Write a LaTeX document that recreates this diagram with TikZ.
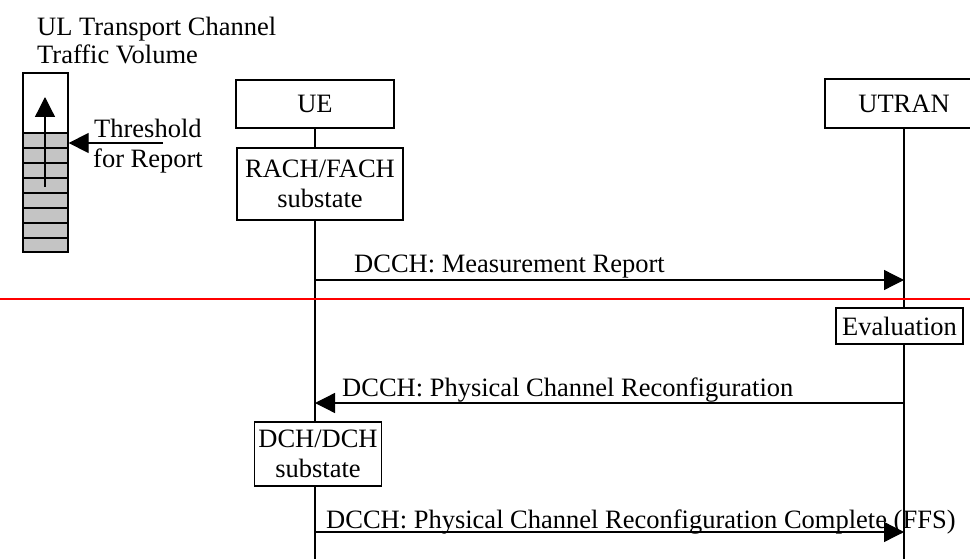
\documentclass[tikz,border=0pt]{standalone}
\usepackage{fontspec}
\setmainfont{Liberation Serif}
\usetikzlibrary{arrows.meta}
\begin{document}
\begin{tikzpicture}[x=1pt,y=-1pt,
  every node/.style={font=\fontsize{26.5}{30}\selectfont},
  lbl/.style={anchor=base west,inner sep=0},
  entity/.style={draw,line width=1.3pt,fill=white,inner sep=0,align=center},
  life/.style={line width=1.3pt},
  msg/.style={line width=1.3pt,-{Triangle[length=20pt,width=20pt]}},
  cell/.style={line width=1.3pt}]
\clip (0,0) rectangle (970,559);
\fill[white] (0,0) rectangle (970,559);

% title
\node[lbl] (t1) at (37,36) {UL Transport Channel};
\node[lbl] (t2) at (37,64) {Traffic Volume};

% buffer
\fill[black!23] (23,133) rectangle (68,252);
\foreach \yy in {148,163,178,193,208,223,238}
  \draw[cell] (23,\yy) -- (68,\yy);
\draw[cell] (23,133) -- (68,133);
\node[draw,line width=1.3pt,minimum width=45,minimum height=179,inner sep=0] (buf) at (45.5,162.5) {};
\coordinate (ba) at (45,187);
\coordinate (bb) at (45,97);
\draw[msg] (ba) -- (bb);
\coordinate (th) at (163,143);
\draw[msg] (th) -- (buf.east |- th);
\node[lbl] (th1) at (94,138) {Threshold};
\node[lbl] (th2) at (93,168) {for Report};

% entities
\node[entity,minimum width=158,minimum height=48] (ue) at (315,104) {UE};
\node[entity,minimum width=158,minimum height=49] (utran) at (904,103.5) {UTRAN};
\node[entity,minimum width=166,minimum height=72] (rach) at (320,184) {RACH/FACH\\substate};
\node[entity,minimum width=127,minimum height=36] (eval) at (899.5,326) {Evaluation};
\node[entity,minimum width=127,minimum height=64] (dch) at (318,454) {DCH/DCH\\substate};

\coordinate (uebot) at (315,559);
\coordinate (utbot) at (904,559);
\draw[life] (ue.south) -- (rach.north -| ue.south);
\draw[life] (rach.south -| ue.south) -- (dch.north -| ue.south);
\draw[life] (dch.south -| ue.south) -- (uebot);
\draw[life] (utran.south) -- (eval.north -| utran.south);
\draw[life] (eval.south -| utran.south) -- (utbot);

% red separator
\coordinate (r1) at (0,299);
\coordinate (r2) at (970,299);
\draw[red,line width=2pt] (r1) -- (r2);

% messages
\coordinate (m1a) at (315,280);
\coordinate (m1b) at (904,280);
\draw[msg] (m1a) -- (m1b);
\node[lbl] (l1) at (354,272) {DCCH: Measurement Report};

\coordinate (m2a) at (904,403);
\coordinate (m2b) at (315,403);
\draw[msg] (m2a) -- (m2b);
\node[lbl] (l2) at (342,396) {DCCH: Physical Channel Reconfiguration};

\coordinate (m3a) at (315,532);
\coordinate (m3b) at (904,532);
\draw[msg] (m3a) -- (m3b);
\node[lbl] (l3) at (326,528) {DCCH: Physical Channel Reconfiguration Complete (FFS)};
\end{tikzpicture}
\end{document}
